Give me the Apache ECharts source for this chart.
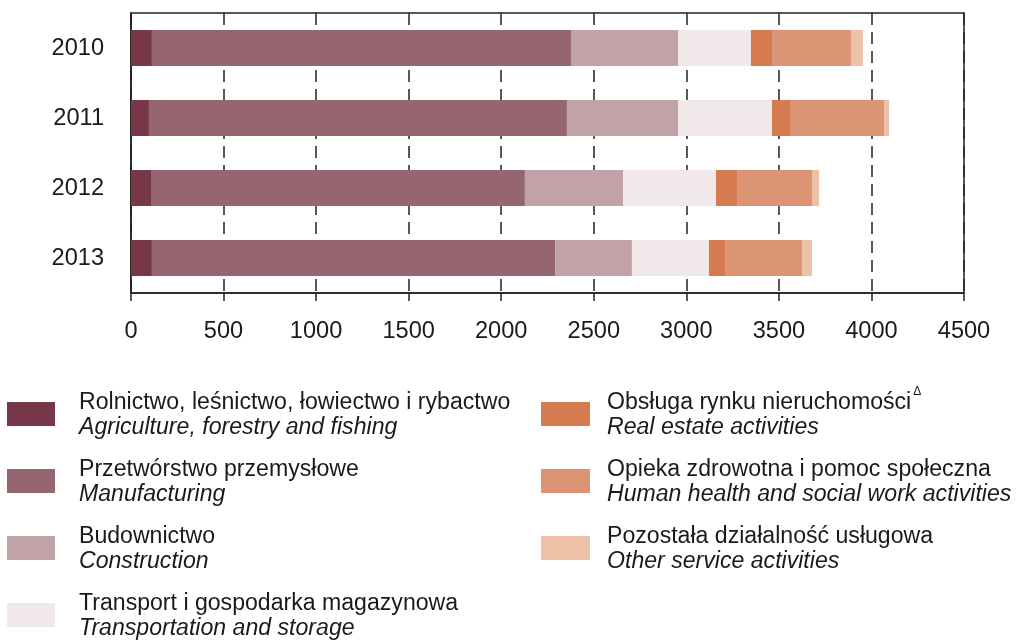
<!DOCTYPE html>
<html>
<head>
<meta charset="utf-8">
<script src="https://cdn.jsdelivr.net/npm/echarts@6/dist/echarts.min.js"></script>
<style>
html,body{margin:0;padding:0;background:#fff;}
#chart{width:1016px;height:640px;}
</style>
</head>
<body>
<div id="chart"></div>
<script>
const years = ['2010', '2011', '2012', '2013'];
const xTicks = [0, 500, 1000, 1500, 2000, 2500, 3000, 3500, 4000, 4500];

const namesPL = [
  'Rolnictwo, leśnictwo, łowiectwo i rybactwo',
  'Przetwórstwo przemysłowe',
  'Budownictwo',
  'Transport i gospodarka magazynowa',
  'Obsługa rynku nieruchomości',
  'Opieka zdrowotna i pomoc społeczna',
  'Pozostała działalność usługowa'
];
const namesEN = [
  'Agriculture, forestry and fishing',
  'Manufacturing',
  'Construction',
  'Transportation and storage',
  'Real estate activities',
  'Human health and social work activities',
  'Other service activities'
];
const colors = ['#773748', '#95666f', '#c0a2a7', '#f1e8e9', '#d67a50', '#db9574', '#edc1a8'];

const agriculture    = [113, 97, 108, 113];
const manufacturing  = [2264, 2258, 2020, 2178];
const construction   = [578, 600, 530, 415];
const transportation = [394, 508, 502, 416];
const realEstate     = [114, 97, 114, 87];
const health         = [427, 508, 405, 416];
const otherServices  = [64, 27, 38, 54];

const seriesValues = [agriculture, manufacturing, construction, transportation, realEstate, health, otherServices];

const FONT = '"Liberation Sans", Arial, sans-serif';
const FS = 23.6;
const LFS = 23.1;

const series = seriesValues.map((vals, i) => ({
  name: namesPL[i],
  type: 'bar',
  stack: 'total',
  barWidth: 36,
  itemStyle: { color: colors[i] },
  emphasis: { disabled: true },
  data: vals
}));

function legendFormatter(name) {
  const i = namesPL.indexOf(name);
  const sup = (i === 4) ? '{sup|Δ}' : '';
  return '{pl|' + name + '}' + sup + '\n{en|' + namesEN[i] + '}';
}
function legendRich(pad) {
  return {
    pl: { fontFamily: FONT, fontSize: LFS, color: '#1a1a1a', lineHeight: 27, padding: [6, 0, 0, pad] },
    en: { fontFamily: FONT, fontSize: LFS, fontStyle: 'italic', color: '#1a1a1a', lineHeight: 29, padding: [0, 0, 0, pad] },
    sup: { fontFamily: FONT, fontSize: 12, color: '#1a1a1a', lineHeight: 27, verticalAlign: 'top', padding: [0, 0, 7, 2] }
  };
}

const chart = echarts.init(document.getElementById('chart'), null, { renderer: 'canvas' });
chart.setOption({
  animation: false,
  backgroundColor: '#fff',
  textStyle: { fontFamily: FONT },
  grid: {
    left: 131, right: 52, top: 13, bottom: 347,
    show: true, borderColor: '#222', borderWidth: 1.5, backgroundColor: 'transparent'
  },
  xAxis: {
    type: 'value',
    min: xTicks[0], max: xTicks[xTicks.length - 1], interval: 500,
    axisLine: { show: true, lineStyle: { color: '#222', width: 1.5 } },
    axisTick: { show: true, length: 8, lineStyle: { color: '#222', width: 1.5 } },
    axisLabel: { fontFamily: FONT, fontSize: FS, color: '#1a1a1a', margin: 26, formatter: v => String(v) },
    splitLine: { show: true, lineStyle: { color: '#222', width: 1.5, type: [12, 7] } }
  },
  yAxis: {
    type: 'category',
    inverse: true,
    data: years,
    axisLine: { show: true, lineStyle: { color: '#222', width: 1.5 } },
    axisTick: { show: false },
    axisLabel: { fontFamily: FONT, fontSize: FS, color: '#1a1a1a', margin: 27 },
    splitLine: { show: false }
  },
  legend: [
    {
      data: namesPL.slice(0, 4),
      orient: 'vertical',
      left: 7, top: 385,
      padding: 0,
      itemWidth: 48, itemHeight: 24, itemGap: 13,
      icon: 'rect',
      selectedMode: false,
      formatter: legendFormatter,
      textStyle: { rich: legendRich(19) }
    },
    {
      data: namesPL.slice(4),
      orient: 'vertical',
      left: 541, top: 385,
      padding: 0,
      itemWidth: 49, itemHeight: 24, itemGap: 13,
      icon: 'rect',
      selectedMode: false,
      formatter: legendFormatter,
      textStyle: { rich: legendRich(12) }
    }
  ],
  series: series
});
</script>
</body>
</html>
